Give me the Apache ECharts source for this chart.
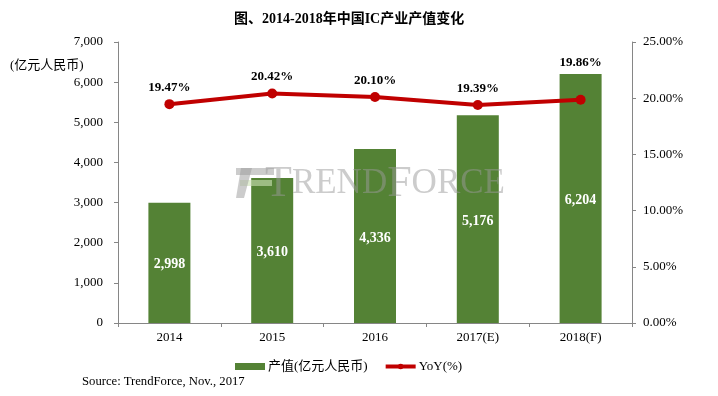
<!DOCTYPE html>
<html><head><meta charset="utf-8">
<script src="https://cdn.jsdelivr.net/npm/echarts@6/dist/echarts.min.js"></script>
<style>html,body{margin:0;padding:0;background:#fff}#c{width:718px;height:396px}</style>
</head><body><div id="c"></div>
<script>
var categories = ['2014', '2015', '2016', '2017(E)', '2018(F)'];
var outputValues = [2998, 3610, 4336, 5176, 6204];
var yoyValues = [19.47, 20.42, 20.10, 19.39, 19.86];
var leftTicks = [0, 7000, 1000];
var rightTicks = [0, 25, 5];

var serif = '"Times New Roman","Liberation Serif","Noto Sans CJK SC",serif';
var yoyData = yoyValues.map(function (v, i) {
  return i === yoyValues.length - 1 ? { value: v, label: { distance: 26 } } : v;
});
var chart = echarts.init(document.getElementById('c'));
chart.setOption({
  animation: false,
  backgroundColor: '#fff',
  title: {
    text: '图、2014-2018年中国IC产业产值变化',
    left: 229, top: 7,
    textStyle: { fontFamily: serif, fontSize: 14, fontWeight: 'bold', color: '#000' }
  },
  graphic: [
    { type: 'rect', z: 10, shape: { x: 236, y: 168, width: 38, height: 7 }, style: { fill: '#999', opacity: 0.5 } },
    { type: 'rect', z: 10, shape: { x: 240, y: 180, width: 32, height: 6 }, style: { fill: '#cfe3b8', opacity: 0.6 } },
    { type: 'polygon', z: 10, shape: { points: [[241, 168], [252, 168], [244, 198], [236, 198]] }, style: { fill: '#999', opacity: 0.5 } },
    { type: 'text', z: 10, left: 265, top: 162,
      style: { text: '{a|T}{b|REND}{a|F}{b|ORCE}', fill: '#999', opacity: 0.5,
        rich: { a: { fontFamily: serif, fontSize: 44, fill: '#999' }, b: { fontFamily: serif, fontSize: 35, fill: '#999' } } } }
  ],
  legend: {
    bottom: 18, left: 230, itemGap: 16, itemWidth: 30, itemHeight: 7,
    textStyle: { fontFamily: serif, fontSize: 13, color: '#000', padding: [0, 0, 0, -2] },
    data: [
      { name: '产值(亿元人民币)', icon: 'rect' },
      { name: 'YoY(%)', lineStyle: { width: 4 }, itemStyle: { color: '#C00000' } }
    ]
  },
  grid: { left: 118, right: 86, top: 42, bottom: 73 },
  xAxis: {
    type: 'category', data: categories, boundaryGap: true,
    axisLine: { lineStyle: { color: '#868686' } },
    axisTick: { show: true, alignWithLabel: false, length: 4, lineStyle: { color: '#868686' } },
    axisLabel: { fontFamily: serif, fontSize: 13, color: '#000', margin: 8 }
  },
  yAxis: [
    {
      type: 'value', min: leftTicks[0], max: leftTicks[1], interval: leftTicks[2],
      name: '(亿元人民币)', nameLocation: 'end', nameGap: 0,
      nameTextStyle: { fontFamily: serif, fontSize: 13, color: '#000', align: 'left', padding: [0, 0, -30, -108] },
      axisLine: { show: true, lineStyle: { color: '#868686' } },
      axisTick: { show: true, length: 4, lineStyle: { color: '#868686' } },
      splitLine: { show: false },
      axisLabel: { fontFamily: serif, fontSize: 13, color: '#000', margin: 15,
        formatter: function (v) { return v.toLocaleString('en-US'); } }
    },
    {
      type: 'value', min: rightTicks[0], max: rightTicks[1], interval: rightTicks[2],
      axisLine: { show: true, lineStyle: { color: '#868686' } },
      axisTick: { show: true, length: 4, lineStyle: { color: '#868686' } },
      splitLine: { show: false },
      axisLabel: { fontFamily: serif, fontSize: 13, color: '#000', margin: 11,
        formatter: function (v) { return v.toFixed(2) + '%'; } }
    }
  ],
  series: [
    {
      name: '产值(亿元人民币)', type: 'bar', data: outputValues, barWidth: 42, z: 2,
      itemStyle: { color: '#548235' },
      label: { show: true, position: 'inside', offset: [0, 2], fontFamily: serif, fontSize: 14, fontWeight: 'bold', color: '#fff',
        formatter: function (p) { return p.value.toLocaleString('en-US'); } }
    },
    {
      name: 'YoY(%)', type: 'line', yAxisIndex: 1, data: yoyData, z: 3,
      symbol: 'circle', symbolSize: 10,
      lineStyle: { color: '#C00000', width: 4 },
      itemStyle: { color: '#C00000' },
      label: { show: true, position: 'top', distance: 5, fontFamily: serif, fontSize: 13, fontWeight: 'bold', color: '#000',
        formatter: function (p) { return p.value.toFixed(2) + '%'; } }
    }
  ]
});
</script>
<div style="position:absolute;left:82px;top:374px;font-family:'Times New Roman','Liberation Serif',serif;font-size:12.7px;color:#000">Source: TrendForce, Nov., 2017</div>
</body></html>
